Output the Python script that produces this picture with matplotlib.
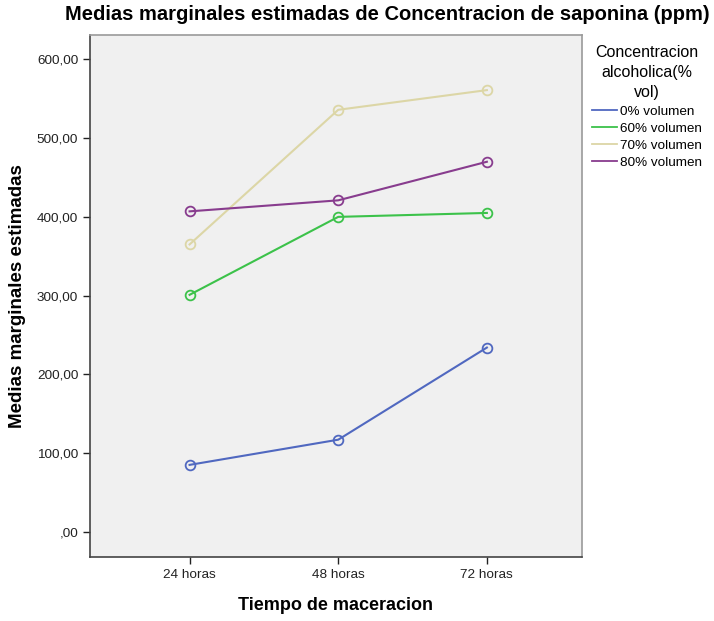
import matplotlib.pyplot as plt
from matplotlib.ticker import FuncFormatter

plt.rcParams['font.family'] = ['Liberation Sans', 'DejaVu Sans']

tiempos = ['24 horas', '48 horas', '72 horas']
conc_0 = [85, 117, 234]
conc_60 = [301, 400, 405]
conc_70 = [365, 536, 561]
conc_80 = [407, 421, 470]

series = [
    ('0% volumen', conc_0, '#5068c0'),
    ('60% volumen', conc_60, '#3cc24a'),
    ('70% volumen', conc_70, '#dcd6a6'),
    ('80% volumen', conc_80, '#883c8e'),
]


def fmt_spss(v, pos):
    if v == 0:
        return ',00'
    return f'{v:.2f}'.replace('.', ',')


W, H = 714, 621
fig = plt.figure(figsize=(W / 100, H / 100), dpi=100)
ax = fig.add_axes([90 / W, 1 - 557 / H, 492 / W, 522 / H])
ax.set_facecolor('#f0f0f0')

x = list(range(len(tiempos)))
for label, vals, color in series:
    ax.plot(x, vals, color=color, lw=1.5, marker='o', markersize=7,
            markerfacecolor='none', markeredgecolor=color, markeredgewidth=1.3,
            label=label)

ax.set_xlim(-0.67, 2.64)
ax.set_ylim(-32, 631)
ax.set_xticks(x)
ax.set_xticklabels(tiempos)
ax.set_yticks(range(0, 601, 100))
ax.yaxis.set_major_formatter(FuncFormatter(fmt_spss))
ax.tick_params(direction='out', length=5, width=1, labelsize=9.7, colors='#222222')

for side in ['left', 'bottom']:
    ax.spines[side].set_color('#444444')
    ax.spines[side].set_linewidth(1.2)
for side in ['top', 'right']:
    ax.spines[side].set_color('#9a9a9a')
    ax.spines[side].set_linewidth(1.2)

fig.text(387 / W, 1 - 15 / H,
         'Medias marginales estimadas de Concentracion de saponina (ppm)',
         fontsize=14.5, fontweight='bold', ha='center', va='center')
ax.set_ylabel('Medias marginales estimadas', fontsize=13.5, fontweight='bold', labelpad=8)
ax.set_xlabel('Tiempo de maceracion', fontsize=13, fontweight='bold', labelpad=12)

leg = fig.legend(*ax.get_legend_handles_labels(),
                 title='Concentracion\nalcoholica(%\nvol)', loc='upper left',
                 bbox_to_anchor=(592 / W, 1 - 45 / H), frameon=False, fontsize=9.7,
                 title_fontsize=11.5, handlelength=1.85, handletextpad=0.2,
                 labelspacing=0.35, borderpad=0, borderaxespad=0)
leg._legend_box.align = 'center'
leg._legend_box.sep = 4
leg.get_title().set_multialignment('center')
leg.get_title().set_linespacing(1.4)
for line in leg.get_lines():
    line.set_marker('')
    line.set_linewidth(1.3)

fig.savefig('out.png', dpi=100)
